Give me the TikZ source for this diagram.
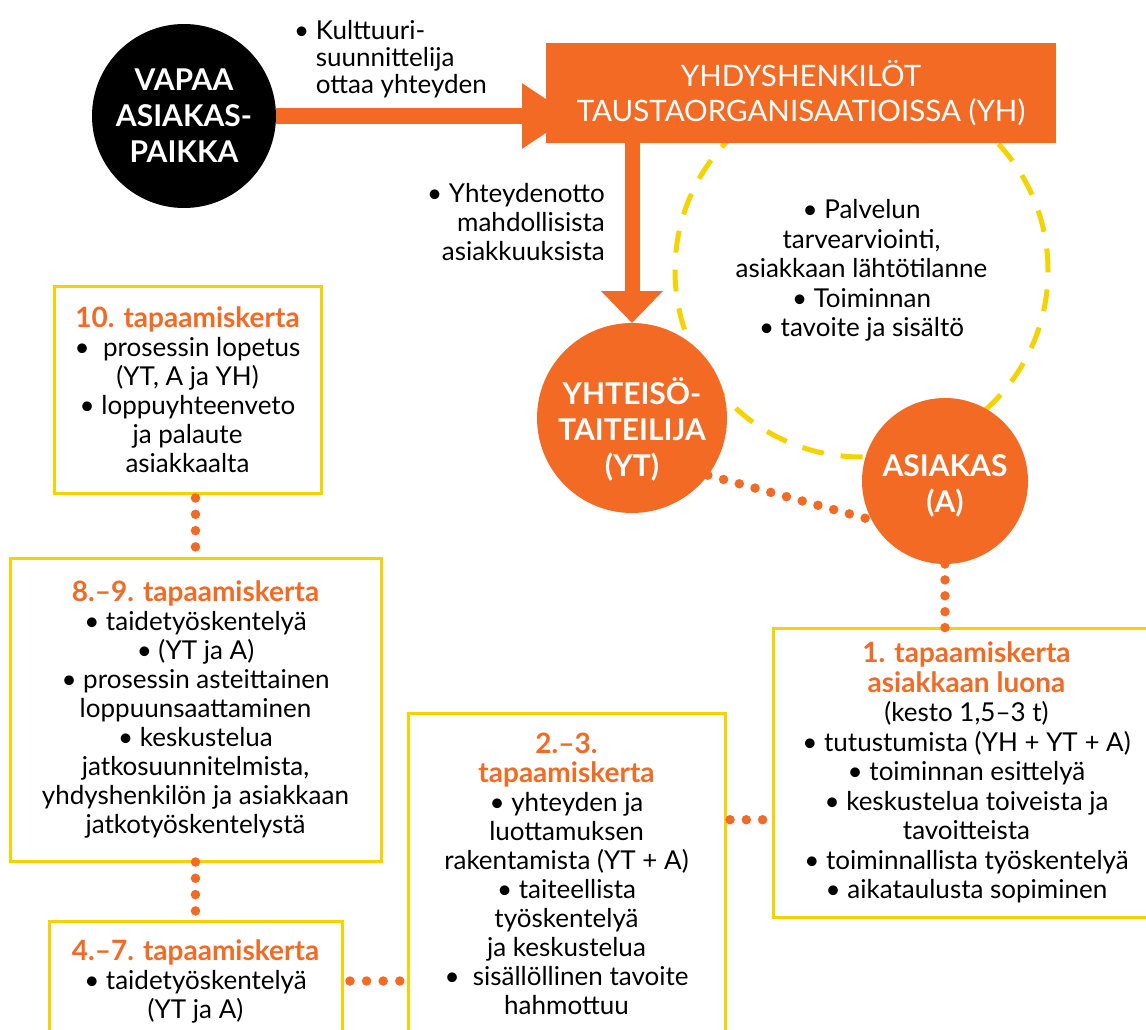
\documentclass[tikz,border=0pt]{standalone}
\usepackage{fontspec}
\setmainfont{Lato}
\usetikzlibrary{arrows.meta,calc}
\definecolor{orng}{RGB}{242,106,36}
\definecolor{ylw}{RGB}{245,211,0}
\pgfdeclarelayer{bg}
\pgfsetlayers{bg,main}
\newcommand{\hd}[1]{\textcolor{orng}{\bfseries\fontsize{28}{29}\selectfont #1}}
\begin{document}
\begin{tikzpicture}[x=1pt,y=-1pt,
  body/.style={font=\fontsize{26}{29}\selectfont, align=center, text=black, inner sep=0pt},
  box/.style={draw=ylw, line width=3pt, fill=white, outer sep=0pt, body},
  circ/.style={circle, fill=orng, inner sep=0pt, outer sep=0pt, text=white, align=center, font=\bfseries\fontsize{30}{36}\selectfont},
  circtxt/.style={inner sep=0pt, text=white, align=center, font=\bfseries\fontsize{30}{36}\selectfont},
  ybox/.style={fill=orng, inner sep=0pt, outer sep=0pt, text=white, align=center, font=\fontsize{29.5}{35}\selectfont},
  dcirc/.style={circle, draw=ylw, line width=5pt, dash pattern=on 22pt off 17pt, inner sep=0pt, body, font=\fontsize{26}{29.5}\selectfont},
  dotline/.style={draw=orng, line width=9.5pt, line cap=round, dash pattern=on 0pt off 16.3pt},
  harrow/.style={draw=orng, line width=16pt, -{Triangle[length=50pt, width=62pt]}},
  varrow/.style={draw=orng, line width=15pt, -{Triangle[length=32pt, width=60pt]}}
]
\useasboundingbox (0,0) rectangle (1146,1030);
\begin{pgfonlayer}{bg}
\fill[white] (0,0) rectangle (1146,1030);
\end{pgfonlayer}

% dashed circle with its text
\node[dcirc, minimum size=373pt] (D) at (861.5,270.5)
  {• Palvelun\\ tarvearviointi,\\ asiakkaan lähtötilanne\\ • Toiminnan\\ • tavoite ja sisältö};

% top box
\node[ybox, minimum width=510pt, minimum height=100pt] (Y) at (801,93)
  {YHDYSHENKILÖT\\ TAUSTAORGANISAATIOISSA (YH)};

% circles
\node[circ, fill=black, minimum size=184pt] (V) at (184,116) {VAPAA\\ ASIAKAS-\\ PAIKKA};
\node[circ, minimum size=190pt] (YT) at (632,418) {};
\node[circtxt] (YTl) at (632,429) {YHTEISÖ-\\ TAITEILIJA\\ (YT)};
\node[circ, minimum size=166pt] (A) at (945,481) {};
\node[circtxt] (Al) at (945,486) {ASIAKAS\\ (A)};

% free texts
\node[body, font=\fontsize{26}{27}\selectfont, align=left, anchor=north west] (t1) at (294,20)
  {•~Kulttuuri-\\ \phantom{•~}suunnittelija\\ \phantom{•~}ottaa yhteyden};
\node[body, align=right, anchor=north east] (t2) at (605,183)
  {•~Yhteydenotto\\ mahdollisista\\ asiakkuuksista};

% meeting boxes
\node[box, minimum width=267pt, minimum height=207pt] (b10) at (187.5,389.5)
  {\hd{10. tapaamiskerta}\\ •~~prosessin lopetus\\ (YT, A ja YH)\\ • loppuyhteenveto\\ ja palaute\\ asiakkaalta};
\node[box, minimum width=371pt, minimum height=303pt] (b89) at (195.5,709.5)
  {\hd{8.–9. tapaamiskerta}\\ • taidetyöskentelyä\\ • (YT ja A)\\ • prosessin asteittainen\\ loppuunsaattaminen\\ • keskustelua\\ jatkosuunnitelmista,\\ yhdyshenkilön ja asiakkaan\\ jatkotyöskentelystä};
\node[box, minimum width=293pt, minimum height=120pt] (b47) at (195.5,981)
  {\hd{4.–7. tapaamiskerta}\\ • taidetyöskentelyä\\ (YT ja A)};
\node[box, minimum width=317pt, minimum height=321pt] (b23) at (566.5,874)
  {\hd{2.–3.}\\ \hd{tapaamiskerta}\\ • yhteyden ja\\ luottamuksen\\ rakentamista (YT + A)\\ • taiteellista\\ työskentelyä\\ ja keskustelua\\ •~~sisällöllinen tavoite\\ hahmottuu};
\node[box, font=\fontsize{26}{29.5}\selectfont, minimum width=387pt, minimum height=289pt] (b1) at (966.5,772.5)
  {\hd{1. tapaamiskerta}\\[0.5pt] \hd{asiakkaan luona}\\ (kesto 1,5–3 t)\\ • tutustumista (YH + YT + A)\\ • toiminnan esittelyä\\ • keskustelua toiveista ja\\ tavoitteista\\ • toiminnallista työskentelyä\\ • aikataulusta sopiminen};

% arrows
\begin{pgfonlayer}{bg}
\draw[harrow] (V.east) -- ([xshift=26pt]V.east -| Y.west);
\draw[varrow] (YT.north |- Y.south) -- (YT.north);
\end{pgfonlayer}

% dotted connectors
\draw[dotline, shorten >=4pt] (YT.-37) -- (A.208);
\draw[dotline, dash pattern=on 0pt off 15.9pt] (A.south) -- (A.south |- b1.north);
\coordinate (d23) at ($(b23.north east)!0.331!(b23.south east)$);
\draw[dotline, shorten <=5pt, shorten >=10pt] (d23) -- (d23 -| b1.west);
\draw[dotline, shorten <=8pt, shorten >=8pt, dash pattern=on 0pt off 16.6pt] (b47.east) -- (b47.east -| b23.west);
\draw[dotline, shorten <=1pt, shorten >=9pt] (b89.south) -- (b47.north);
\draw[dotline, shorten <=5pt, shorten >=11pt] (b89.north |- b10.south) -- (b89.north);
\end{tikzpicture}
\end{document}
